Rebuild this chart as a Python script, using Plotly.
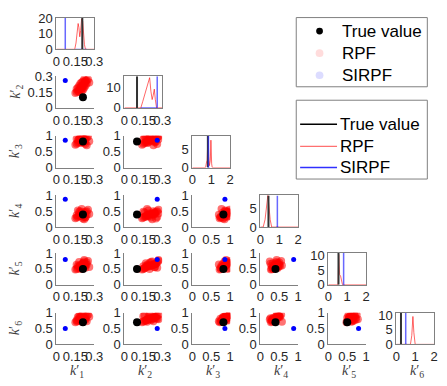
import plotly.graph_objects as go

# ---------------- data ----------------
labels = ["k1", "k2", "k3", "k4", "k5", "k6"]
true_vals = [0.21, 0.10, 0.82, 0.40, 0.50, 0.70]
sirpf_vals = [0.07, 0.26, 0.86, 0.88, 0.80, 0.50]
hist_true_lines = [0.205, 0.10, 0.82, 0.43, 0.54, 0.25]
hist_sirpf_lines = [0.07, 0.26, 0.85, 0.90, 0.81, 0.50]

rpf_k1 = [0.20,0.21,0.19,0.22,0.18,0.23,0.17,0.24,0.16,0.25,0.15,0.20,0.21,0.19,0.22,
          0.18,0.23,0.20,0.24,0.17,0.21,0.22,0.19,0.20,0.26,0.16,0.21,0.23,0.18,0.22]
rpf_k2 = [0.20,0.22,0.18,0.24,0.17,0.25,0.16,0.26,0.15,0.27,0.14,0.24,0.17,0.23,0.19,
          0.21,0.21,0.16,0.23,0.19,0.25,0.27,0.20,0.18,0.24,0.18,0.20,0.26,0.15,0.22]
rpf_k3 = [0.85,0.88,0.82,0.90,0.80,0.92,0.78,0.95,0.75,0.98,0.72,0.80,0.93,0.87,0.79,
          0.91,0.84,0.96,0.70,0.86,0.81,0.89,0.94,0.77,0.83,0.90,0.99,0.74,0.88,0.85]
rpf_k4 = [0.40,0.42,0.38,0.45,0.35,0.48,0.33,0.50,0.30,0.55,0.28,0.45,0.33,0.50,0.36,
          0.42,0.30,0.46,0.39,0.52,0.27,0.43,0.35,0.57,0.41,0.37,0.44,0.32,0.48,0.25]
rpf_k5 = [0.60,0.62,0.58,0.65,0.55,0.66,0.52,0.70,0.50,0.75,0.48,0.55,0.68,0.62,0.57,
          0.72,0.60,0.53,0.64,0.59,0.66,0.78,0.50,0.61,0.56,0.63,0.69,0.54,0.58,0.73]
rpf_k6 = [0.80,0.82,0.78,0.85,0.76,0.88,0.74,0.90,0.72,0.93,0.70,0.85,0.75,0.88,0.80,
          0.83,0.77,0.91,0.73,0.86,0.82,0.79,0.84,0.71,0.87,0.76,0.94,0.81,0.89,0.78]
rpf = [rpf_k1, rpf_k2, rpf_k3, rpf_k4, rpf_k5, rpf_k6]

h1_x = [0, 0.145, 0.155, 0.165, 0.172, 0.178, 0.185, 0.192, 0.20, 0.208, 0.215, 0.222, 0.23, 0.3]
h1_y = [0, 0, 4, 12, 16.5, 14, 8, 12, 19.5, 18, 10, 3, 0, 0]
h2_x = [0, 0.13, 0.145, 0.16, 0.175, 0.19, 0.20, 0.21, 0.22, 0.228, 0.237, 0.245, 0.255, 0.3]
h2_y = [0, 0, 3, 6, 9, 13, 14.5, 8, 4, 6, 9, 4, 0, 0]
h3_x = [0, 0.70, 0.75, 0.78, 0.80, 0.83, 0.87, 0.90, 0.95, 0.98, 1.02, 1.05, 2]
h3_y = [0, 0, 1.5, 2, 5, 9, 3, 0.5, 2, 7.5, 1, 0, 0]
h4_x = [0, 0.15, 0.25, 0.35, 0.40, 0.45, 0.52, 0.60, 2]
h4_y = [0, 0, 2, 6, 8.6, 6, 2, 0, 0]
h5_x = [0, 0.52, 0.55, 0.57, 0.60, 0.65, 0.70, 0.75, 2]
h5_y = [0, 0, 10.5, 6, 3.5, 3, 1.5, 0, 0]
h6_x = [0, 0.75, 0.82, 0.88, 0.93, 1.0, 2]
h6_y = [0, 0, 3, 9.5, 4, 0, 0]
hist_x = [h1_x, h2_x, h3_x, h4_x, h5_x, h6_x]
hist_y = [h1_y, h2_y, h3_y, h4_y, h5_y, h6_y]
sirpf_base = [(0.15, 0.24), (0.13, 0.255), (0.80, 0.90), (0.85, 0.95), (0.76, 0.86), (0.45, 0.55)]

hist_ymax = [20.3, 15.2, 8.7, 8.5, 11, 10.8]
hist_yticks = [[0, 10, 20], [0, 10], [0, 5], [0, 5], [0, 5, 10], [0, 5, 10]]
small_range = [True, True, False, False, False, False]

legend_names = ["True value", "RPF", "SIRPF"]

# ---------------- layout geometry ----------------
W, H = 447, 386
lefts = [54, 124, 194, 264, 334, 404]
tops = [11, 72, 134, 196, 256, 318]
PW, PH = 39, 33

AXCOL = "#808080"
TXT = "#262626"
FONT = "Liberation Sans, Arial, sans-serif"

fig = go.Figure()
layout = {}
n = 0
for i in range(6):
    for j in range(i + 1):
        n += 1
        xa = "x" if n == 1 else f"x{n}"
        ya = "y" if n == 1 else f"y{n}"
        xkey = "xaxis" if n == 1 else f"xaxis{n}"
        ykey = "yaxis" if n == 1 else f"yaxis{n}"
        xd = [lefts[j] / W, (lefts[j] + PW) / W]
        yd = [1 - (tops[i] + PH) / H, 1 - tops[i] / H]
        is_hist = (i == j)
        common = dict(showgrid=False, zeroline=False, showline=True, linecolor=AXCOL,
                      linewidth=1, ticks="", tickangle=0,
                      tickfont=dict(family=FONT, size=13, color=TXT),
                      mirror=is_hist, fixedrange=True)
        if small_range[j]:
            xr = [0, 0.3]; xt = [0, 0.15, 0.3]; xtt = ["0", "0.15", "0.3"]
        elif is_hist:
            xr = [0, 2]; xt = [0, 1, 2]; xtt = ["0", "1", "2"]
        else:
            xr = [0, 1]; xt = [0, 0.5, 1]; xtt = ["0", "0.5", "1"]
        layout[xkey] = dict(domain=xd, anchor=ya, range=xr, tickvals=xt, ticktext=xtt, **common)
        if is_hist:
            yr = [0, hist_ymax[i]]; yt = hist_yticks[i]; ytt = [str(v) for v in yt]
        elif small_range[i]:
            yr = [0, 0.3]; yt = [0, 0.15, 0.3]; ytt = ["0", "0.15", "0.3"]
        else:
            yr = [0, 1]; yt = [0, 0.5, 1]; ytt = ["0", "0.5", "1"]
        layout[ykey] = dict(domain=yd, anchor=xa, range=yr, tickvals=yt, ticktext=ytt, **common)

        if is_hist:
            fig.add_trace(go.Scatter(x=hist_x[i], y=hist_y[i], mode="lines", xaxis=xa, yaxis=ya,
                                     line=dict(color="rgba(255,0,0,0.6)", width=1), showlegend=False))
            a, b = sirpf_base[i]
            fig.add_trace(go.Scatter(x=[a, b], y=[0, 0], mode="lines", xaxis=xa, yaxis=ya,
                                     line=dict(color="rgba(0,0,255,0.6)", width=1.2), showlegend=False))
            fig.add_trace(go.Scatter(x=[hist_true_lines[i]] * 2, y=[0, hist_ymax[i]], mode="lines",
                                     xaxis=xa, yaxis=ya, line=dict(color="#333333", width=2),
                                     showlegend=False))
            fig.add_trace(go.Scatter(x=[hist_sirpf_lines[i]] * 2, y=[0, hist_ymax[i]], mode="lines",
                                     xaxis=xa, yaxis=ya, line=dict(color="rgba(40,40,255,0.7)", width=1.5),
                                     showlegend=False))
        else:
            fig.add_trace(go.Scatter(x=rpf[j], y=rpf[i], mode="markers", xaxis=xa, yaxis=ya,
                                     marker=dict(color="rgba(255,0,0,0.55)", size=8, line=dict(width=0)),
                                     showlegend=False))
            fig.add_trace(go.Scatter(x=[true_vals[j]], y=[true_vals[i]], mode="markers", xaxis=xa, yaxis=ya,
                                     marker=dict(color="black", size=8), showlegend=False))
            fig.add_trace(go.Scatter(x=[sirpf_vals[j]], y=[sirpf_vals[i]], mode="markers", xaxis=xa, yaxis=ya,
                                     marker=dict(color="blue", size=5), showlegend=False))

# ---------------- legends (drawn as shapes + text) ----------------
shapes = []
annotations = []
LX0, LX1 = 301, 436
def px(x):
    return x / W
def py(y):
    return 1 - y / H

shapes.append(dict(type="rect", xref="paper", yref="paper", x0=px(LX0), x1=px(LX1),
                   y0=py(83), y1=py(11), line=dict(color=AXCOL, width=1), fillcolor="white"))
dot_cols = ["black", "#ffdcdc", "#dcdcff"]
for k, yy in enumerate([25, 48, 71]):
    r = 3.5 if k == 0 else 4
    shapes.append(dict(type="circle", xref="paper", yref="paper", x0=px(325 - r), x1=px(325 + r),
                       y0=py(yy + r), y1=py(yy - r), line=dict(width=0), fillcolor=dot_cols[k]))
    annotations.append(dict(text=legend_names[k], x=px(346), y=py(yy), xref="paper", yref="paper",
                            xanchor="left", yanchor="middle", showarrow=False,
                            font=dict(family=FONT, size=17, color="black")))

shapes.append(dict(type="rect", xref="paper", yref="paper", x0=px(LX0), x1=px(LX1),
                   y0=py(179), y1=py(97), line=dict(color=AXCOL, width=1), fillcolor="white"))
line_cols = ["#000000", "#ff7070", "#3030ff"]
for k, yy in enumerate([122, 145, 167]):
    shapes.append(dict(type="line", xref="paper", yref="paper", x0=px(305), x1=px(343),
                       y0=py(yy) , y1=py(yy), line=dict(color=line_cols[k], width=1.3)))
    annotations.append(dict(text=legend_names[k], x=px(344), y=py(yy), xref="paper", yref="paper",
                            xanchor="left", yanchor="middle", showarrow=False,
                            font=dict(family=FONT, size=17, color="black")))

# axis label annotations
sym = ["<i>k</i>′<sub>%d</sub>" % (k + 1) for k in range(6)]
for i in range(1, 6):
    annotations.append(dict(text=sym[i], x=px(12), y=py(tops[i] + PH / 2), xref="paper", yref="paper",
                            showarrow=False, textangle=-90, xanchor="center", yanchor="middle",
                            font=dict(family="Liberation Serif, serif", size=14, color="#404040")))
for j in range(6):
    annotations.append(dict(text=sym[j], x=px(lefts[j] + PW / 2 + 2), y=py(379), xref="paper",
                            yref="paper", showarrow=False, xanchor="center", yanchor="middle",
                            font=dict(family="Liberation Serif, serif", size=14, color="#404040")))

fig.update_layout(width=W, height=H, margin=dict(l=0, r=0, t=0, b=0), showlegend=False,
                  paper_bgcolor="white", plot_bgcolor="white", shapes=shapes,
                  annotations=annotations, **layout)
fig.write_html("out.html")
